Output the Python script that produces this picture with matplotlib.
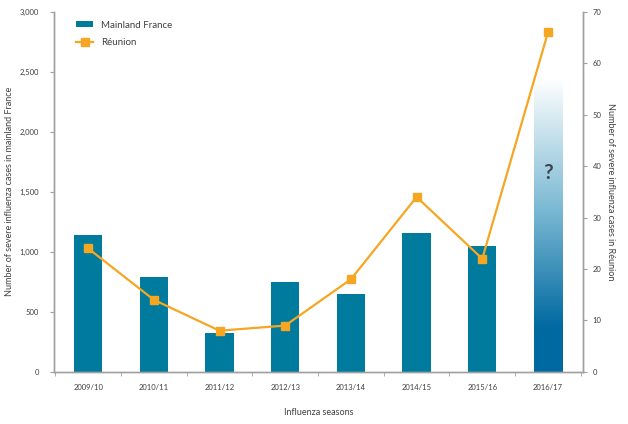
"""
Severe influenza cases: mainland France (bars) vs Réunion (line), 2009/10 - 2016/17
"""

import numpy as np
import matplotlib
matplotlib.use('Agg')
import matplotlib.pyplot as plt
from matplotlib.colors import LinearSegmentedColormap
from matplotlib.patches import Patch
from matplotlib.lines import Line2D

plt.rcParams['font.family'] = ['Lato', 'DejaVu Sans']

# Data
seasons = ['2009/10', '2010/11', '2011/12', '2012/13', '2013/14', '2014/15', '2015/16', '2016/17']
mainland = [1140, 790, 320, 750, 650, 1160, 1050]   # 2016/17 not yet known
mainland_estimate_top = 2450                           # shaded "?" bar
reunion = [24, 14, 8, 9, 18, 34, 22, 66]

BAR_COLOR = '#007b9e'
GRAD_DARK = '#0069a0'
LINE_COLOR = '#f5a623'
AXIS_GREY = '#a0a0a0'
TEXT_GREY = '#404040'

fig = plt.figure(figsize=(6.28, 4.24), dpi=100)
ax = fig.add_axes([0.086, 0.123, 0.842, 0.849])
ax2 = ax.twinx()

x = np.arange(len(seasons))
width = 0.43

ax.bar(x[:len(mainland)], mainland, width=width, color=BAR_COLOR, zorder=2)

# Gradient bar for the uncertain season
cmap = LinearSegmentedColormap.from_list(
    'fade', [(0.0, GRAD_DARK), (0.15, GRAD_DARK), (0.55, '#7ab8d3'), (1.0, '#ffffff')])
grad = np.linspace(0, 1, 256).reshape(-1, 1)
xi = x[-1]
ax.imshow(grad, cmap=cmap, origin='lower', aspect='auto', zorder=2,
          extent=[xi - width / 2, xi + width / 2, 0, mainland_estimate_top])
ax.text(xi, 1660, '?', ha='center', va='center', fontsize=15,
        fontweight='bold', color='#3a4550', zorder=3)

ax2.plot(x, reunion, color=LINE_COLOR, lw=1.6, marker='s', markersize=6,
         markerfacecolor=LINE_COLOR, markeredgecolor=LINE_COLOR, zorder=4)

ax.set_xlim(-0.52, len(seasons) - 0.47)
ax.set_ylim(0, 3000)
ax2.set_ylim(0, 70)
ax.set_yticks(np.arange(0, 3001, 500))
ax.set_yticklabels([f'{v:,}' for v in range(0, 3001, 500)])
ax2.set_yticks(np.arange(0, 71, 10))

ax.set_xticks(x)
ax.set_xticklabels(seasons)
ax.set_xticks(np.arange(-0.5, len(seasons)), minor=True)
ax.tick_params(axis='x', which='major', length=0, pad=9)
ax.tick_params(axis='x', which='minor', length=3, color=AXIS_GREY)

for a in (ax, ax2):
    a.spines['top'].set_visible(False)
    for s in ('left', 'right', 'bottom'):
        a.spines[s].set_color(AXIS_GREY)
        a.spines[s].set_linewidth(1.0)
    a.tick_params(axis='both', labelsize=5.5, colors=TEXT_GREY, width=0.8)
    a.tick_params(axis='y', length=3, color=AXIS_GREY)
ax.tick_params(axis='y', pad=8)
ax2.tick_params(axis='y', pad=4)

ax.set_ylabel('Number of severe influenza cases in mainland France',
              fontsize=6.5, color=TEXT_GREY, labelpad=4)
ax2.set_ylabel('Number of severe influenza cases in Réunion',
               fontsize=6.5, color=TEXT_GREY, rotation=270, labelpad=10)
ax.set_xlabel('Influenza seasons', fontsize=6.5, color=TEXT_GREY, labelpad=12)

handles = [Patch(facecolor=BAR_COLOR, edgecolor='none'),
           Line2D([0], [0], color=LINE_COLOR, lw=1.6, marker='s', markersize=6)]
ax2.legend(handles, ['Mainland France', 'Réunion'], loc='upper left',
           bbox_to_anchor=(0.025, 1.0), frameon=False, fontsize=7,
           labelcolor=TEXT_GREY, handlelength=1.8, handleheight=0.5,
           labelspacing=0.9)

fig.savefig('out.png', dpi=100)
